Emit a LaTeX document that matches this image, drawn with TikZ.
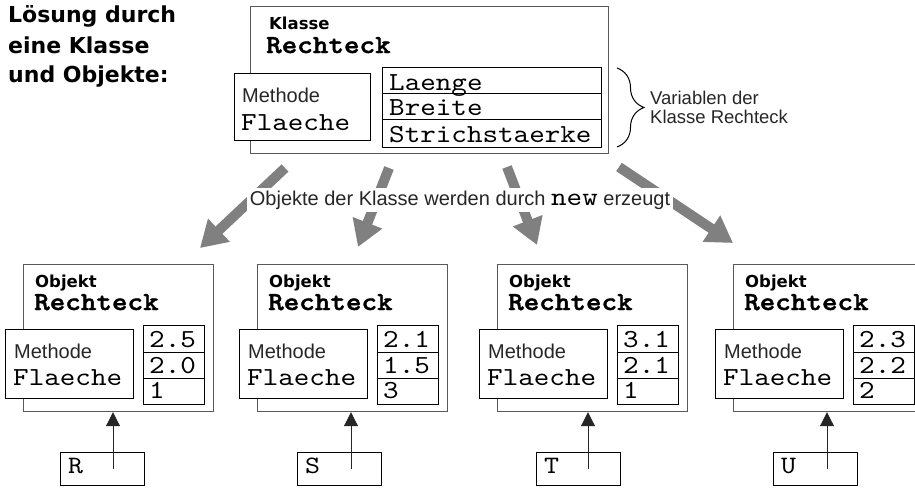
\documentclass[tikz,border=0pt]{standalone}
\usepackage{fontspec}
\setmainfont{Liberation Sans}
\newfontfamily\codefont{lmmono10-regular.otf}[BoldFont=lmmonolt10-bold.otf, BoldFeatures={FakeBold=1.6}, FakeStretch=1.14]
\newfontfamily\headfont{DejaVu Sans}
\usetikzlibrary{arrows.meta,decorations.pathreplacing}

\newcommand\fTitle{\headfont\bfseries\fontsize{22}{26}\selectfont}
\newcommand\fKind{\headfont\bfseries\fontsize{16.5}{19}\selectfont}
\newcommand\fName{\codefont\bfseries\fontsize{26}{28}\selectfont}
\newcommand\fCode{\codefont\fontsize{26}{28}\selectfont}
\newcommand\fPlain{\fontsize{20}{22}\selectfont}
\newcommand\fNote{\fontsize{18.5}{20}\selectfont}

\tikzset{
  txt/.style={anchor=base west, inner sep=0pt},
  titletext/.style={txt, font=\fTitle},
  kind/.style={txt, font=\fKind},
  cname/.style={txt, font=\fName},
  code/.style={txt, font=\fCode},
  plain/.style={txt, font=\fPlain, text=black!85},
  note/.style={txt, font=\fNote, text=black!85},
  frame/.style={draw=black!65, line width=1.2pt, anchor=north west, inner sep=0pt,
                minimum width=190pt, minimum height=147pt},
  methbox/.style={draw=black, line width=1pt, fill=white, anchor=north west, inner sep=0pt,
                  minimum width=128pt, minimum height=69pt},
  cell/.style={draw=black, line width=1pt, fill=white, anchor=north west, inner sep=0pt,
               minimum width=61pt, minimum height=26pt},
  refbox/.style={draw=black, line width=1pt, anchor=north west, inner sep=0pt,
                 minimum width=84pt, minimum height=33pt},
  bigarrow/.style={draw=black!50, line width=10pt, -{Triangle[length=26pt,width=30pt]}},
  ptr/.style={draw=black!85, line width=1pt, -{Triangle[length=14pt,width=14pt]}},
  varbrace/.style={draw=black, line width=1pt, decorate,
                   decoration={brace, amplitude=27pt, aspect=0.5}},
}

\begin{document}
\begin{tikzpicture}[x=1pt,y=-1pt]
\useasboundingbox (0,0) rectangle (915,487);
\clip (0,0) rectangle (915,487);

% heading
\node[titletext] (title1) at (8,23) {Lösung durch};
\node[titletext] (title2) at (8,53) {eine Klasse};
\node[titletext] (title3) at (8,82) {und Objekte:};

% the class
\node[frame, minimum width=358pt, minimum height=147pt] (cls) at (250,6) {};
\node[kind] (clskind) at (269,30) {Klasse};
\node[cname] (clsname) at (266,53) {Rechteck};
\node[methbox, minimum width=136pt, minimum height=67pt] (clsmeth) at (234,73) {};
\node[plain] (clsmlabel) at (242,102) {Methode};
\node[code] (clsmname) at (241,130) {Flaeche};
\node[cell, minimum width=219pt, minimum height=26pt] (var1) at (382,67) {};
\node[cell, minimum width=219pt, minimum height=26pt] (var2) at (382,93) {};
\node[cell, minimum width=219pt, minimum height=28pt] (var3) at (382,119) {};
\node[code] (var1t) at (389,90) {Laenge};
\node[code] (var2t) at (389,115) {Breite};
\node[code] (var3t) at (389,142) {Strichstaerke};

% brace with its note
\coordinate (bracetop) at (617,68);
\coordinate (bracebot) at (617,147);
\draw[varbrace] (bracetop) -- (bracebot);
\node[note] (note1) at (650,104) {Variablen der};
\node[note] (note2) at (650,123) {Klasse Rechteck};

% creation arrows
\coordinate (s1) at (285,168); \coordinate (e1) at (200,248);
\coordinate (s2) at (389,168); \coordinate (e2) at (358,247);
\coordinate (s3) at (507,167); \coordinate (e3) at (537,245);
\coordinate (s4) at (619,167); \coordinate (e4) at (733,243);
\foreach \k in {1,...,4} { \draw[bigarrow] (s\k) -- (e\k); }

\node[fill=white, inner sep=3pt, anchor=base, font=\fPlain, text=black!85] (caption) at (460,205)
  {Objekte der Klasse werden durch {\fCode\color{black}new} erzeugt};

% the objects
\foreach \L/\first/\second/\third/\letter/\sx/\ax [count=\i] in
  {23/2.5/2.0/1/R/60/113, 257/2.1/1.5/3/S/297/351,
   497/3.1/2.1/1/T/536/588, 733/2.3/2.2/2/U/773/827} {
  \node[frame] (obj\i) at (\L,264) {};
  \node[kind] (objkind\i) at (\L+12,287) {Objekt};
  \node[cname] (objname\i) at (\L+11,310) {Rechteck};
  \node[methbox] (objmeth\i) at (\L-18,329) {};
  \node[plain] (objmlabel\i) at (\L-9,358) {Methode};
  \node[code] (objmname\i) at (\L-10,385) {Flaeche};
  \node[cell, minimum height=27pt] (vala\i) at (\L+120,325) {};
  \node[cell] (valb\i) at (\L+120,352) {};
  \node[cell] (valc\i) at (\L+120,378) {};
  \node[code] (valat\i) at (\L+126,347) {\first};
  \node[code] (valbt\i) at (\L+126,373) {\second};
  \node[code] (valct\i) at (\L+126,398) {\third};
  \node[refbox] (ref\i) at (\sx,452) {};
  \node[code, font=\codefont\fontsize{25}{27}\selectfont] (reft\i) at (\sx+8,473) {\letter};
  \coordinate (tail\i) at (\ax,469);
  \draw[ptr] (tail\i) -- (tail\i |- obj\i.south);
}
\end{tikzpicture}
\end{document}
